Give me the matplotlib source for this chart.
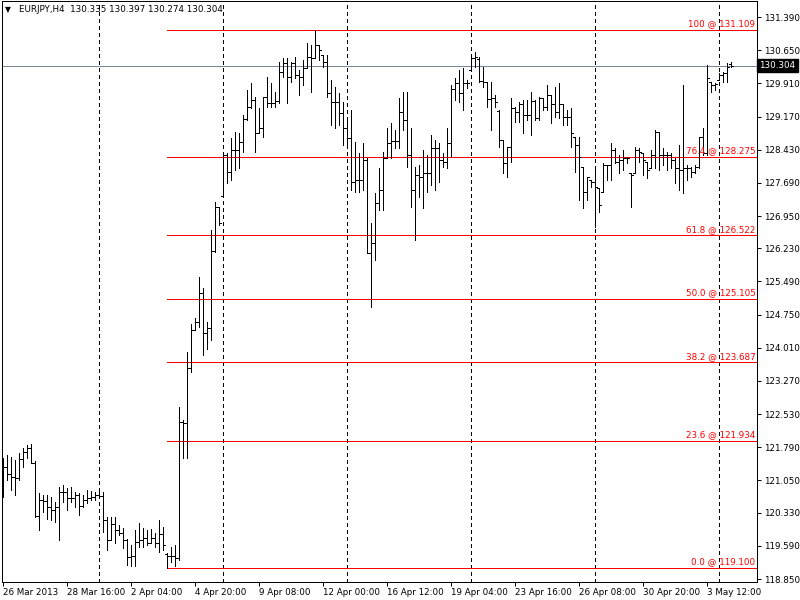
import matplotlib
matplotlib.use("Agg")
import matplotlib.pyplot as plt
from matplotlib.collections import LineCollection
from matplotlib.transforms import blended_transform_factory

# EURJPY H4 bars, 26 Mar 2013 .. 3 May 2013
opens = [121.17, 121.34, 121.19, 121.13, 121.10, 121.52, 121.69, 121.77, 121.45, 120.26,
         120.61, 120.60, 120.46, 120.38, 120.45, 120.80, 120.80, 120.65, 120.65, 120.73,
         120.48, 120.61, 120.65, 120.67, 120.73, 120.70, 120.17, 119.72, 120.08, 119.94,
         119.87, 119.72, 119.35, 119.36, 119.68, 119.72, 119.76, 119.65, 119.76, 119.65,
         119.85, 119.40, 119.36, 119.36, 119.32, 122.35, 122.33, 123.55, 124.41, 124.59,
         125.24, 124.33, 124.44, 126.18, 127.16, 127.40, 128.31, 127.94, 128.42, 128.42,
         128.61, 129.11, 129.39, 129.54, 128.80, 128.91, 129.61, 129.48, 129.47, 129.52,
         130.17, 130.36, 130.06, 130.36, 130.10, 130.06, 130.25, 130.50, 130.47, 130.77,
         130.54, 130.39, 129.69, 129.50, 129.50, 129.24, 128.91, 128.70, 127.71, 127.75,
         127.75, 128.20, 126.12, 126.34, 127.23, 127.53, 128.24, 128.57, 128.62, 128.62,
         129.28, 129.09, 128.31, 127.53, 127.86, 127.83, 127.90, 127.90, 128.46, 128.46,
         128.20, 128.16, 128.57, 129.78, 129.91, 129.70, 129.91, 130.21, 130.47, 130.45,
         129.97, 129.95, 129.55, 129.58, 129.30, 128.65, 128.13, 128.48, 129.35, 129.28,
         129.46, 129.20, 129.20, 129.52, 129.13, 129.58, 129.39, 129.65, 129.46, 129.28,
         129.46, 129.17, 129.17, 128.72, 128.53, 128.05, 127.49, 127.75, 127.71, 127.57,
         127.49, 128.09, 128.09, 128.42, 128.16, 128.20, 128.24, 127.90, 127.90, 128.42,
         128.35, 128.16, 128.01, 128.31, 128.83, 128.31, 128.31, 128.31, 128.20, 128.01,
         127.98, 128.01, 128.01, 127.94, 128.05, 128.71, 128.35, 129.95, 129.87, 129.98,
         130.10, 130.13, 130.335]
highs = [121.54, 121.62, 121.58, 121.51, 121.66, 121.77, 121.84, 121.86, 121.49, 120.76,
         120.73, 120.73, 120.69, 120.58, 120.91, 120.95, 120.88, 120.91, 120.80, 120.76,
         120.73, 120.84, 120.82, 120.80, 120.84, 120.80, 120.24, 120.24, 120.24, 120.06,
         119.98, 119.74, 119.61, 119.94, 120.09, 119.98, 119.94, 119.96, 119.87, 120.17,
         120.01, 119.43, 119.57, 119.61, 122.69, 122.40, 123.92, 124.55, 124.67, 125.60,
         125.34, 124.59, 126.64, 127.27, 127.16, 128.35, 128.35, 128.68, 128.83, 128.80,
         129.20, 129.76, 129.91, 129.61, 129.35, 129.61, 130.06, 129.91, 129.72, 130.39,
         130.47, 130.47, 130.39, 130.50, 130.21, 130.43, 130.80, 130.77, 131.109, 130.77,
         130.54, 130.54, 129.98, 129.83, 129.69, 129.50, 129.09, 129.32, 128.61, 128.35,
         128.57, 128.24, 126.79, 127.46, 128.01, 128.38, 128.91, 129.02, 128.87, 129.58,
         129.72, 129.72, 128.91, 128.05, 128.09, 128.42, 128.31, 128.76, 128.65, 128.57,
         128.35, 128.91, 129.87, 130.02, 130.21, 130.25, 129.98, 130.50, 130.62, 130.50,
         130.28, 129.95, 129.95, 129.65, 129.32, 128.65, 128.50, 129.58, 129.39, 129.50,
         129.54, 129.54, 129.72, 129.54, 129.61, 129.58, 129.87, 129.65, 129.83, 129.91,
         129.46, 129.32, 129.35, 128.72, 128.72, 128.05, 127.83, 127.75, 127.98, 127.57,
         128.13, 128.09, 128.57, 128.46, 128.31, 128.42, 128.27, 127.90, 128.50, 128.46,
         128.35, 128.16, 128.42, 128.87, 128.83, 128.46, 128.38, 128.35, 128.24, 128.53,
         129.87, 128.09, 128.05, 128.09, 128.72, 128.91, 130.32, 129.95, 129.91, 130.13,
         130.17, 130.36, 130.397]
lows = [120.69, 121.06, 120.84, 120.73, 121.06, 121.36, 121.54, 121.43, 120.23, 119.94,
        120.35, 120.20, 120.17, 120.13, 119.72, 120.58, 120.39, 120.58, 120.46, 120.28,
        120.46, 120.54, 120.61, 120.61, 120.65, 119.91, 119.50, 119.72, 119.65, 119.83,
        119.54, 119.16, 119.14, 119.13, 119.57, 119.57, 119.61, 119.65, 119.57, 119.46,
        119.50, 119.10, 119.23, 119.14, 119.28, 121.55, 121.55, 123.48, 124.41, 124.48,
        123.85, 123.99, 124.18, 126.15, 126.75, 127.38, 127.68, 127.75, 127.98, 128.01,
        128.38, 129.09, 129.35, 128.38, 128.80, 128.72, 129.39, 129.39, 129.39, 129.47,
        130.06, 129.47, 129.95, 130.02, 129.66, 129.87, 130.25, 129.72, 130.47, 130.43,
        130.28, 129.61, 128.98, 128.91, 128.98, 128.53, 128.47, 127.53, 127.49, 127.49,
        127.53, 126.12, 124.93, 125.97, 127.08, 127.08, 128.24, 128.24, 128.46, 128.46,
        128.87, 128.05, 127.16, 126.41, 127.38, 127.12, 127.49, 127.64, 127.53, 127.71,
        128.05, 128.01, 128.27, 129.54, 129.50, 129.32, 129.80, 130.21, 130.28, 129.95,
        129.83, 129.39, 128.87, 129.39, 128.50, 127.90, 127.83, 128.16, 129.05, 129.05,
        128.80, 129.09, 128.76, 129.09, 129.09, 129.32, 129.32, 129.02, 129.17, 129.13,
        128.98, 128.98, 128.50, 127.94, 127.31, 127.12, 127.31, 127.60, 126.71, 127.05,
        127.49, 127.75, 127.75, 128.13, 127.90, 127.98, 128.13, 127.16, 127.90, 128.16,
        127.86, 127.79, 128.01, 128.01, 127.98, 128.09, 127.98, 128.01, 127.68, 127.53,
        127.46, 127.75, 127.83, 127.90, 128.01, 128.31, 128.31, 129.72, 129.76, 129.98,
        129.95, 129.95, 130.274]
closes = [121.34, 121.19, 121.13, 121.10, 121.52, 121.69, 121.77, 121.45, 120.26, 120.61,
          120.60, 120.46, 120.38, 120.45, 120.80, 120.80, 120.65, 120.65, 120.73, 120.48,
          120.61, 120.65, 120.67, 120.73, 120.70, 120.17, 119.72, 120.08, 119.94, 119.87,
          119.72, 119.35, 119.36, 119.68, 119.72, 119.76, 119.65, 119.76, 119.65, 119.85,
          119.61, 119.36, 119.36, 119.32, 122.35, 122.33, 123.55, 124.41, 124.59, 125.24,
          124.33, 124.44, 126.18, 127.16, 126.79, 128.31, 127.94, 128.42, 128.42, 128.61,
          129.11, 129.39, 129.54, 128.80, 128.91, 129.61, 129.48, 129.47, 129.52, 130.17,
          130.36, 130.06, 130.36, 130.10, 130.06, 130.25, 130.50, 130.47, 130.77, 130.65,
          130.39, 129.69, 129.50, 129.50, 129.24, 128.91, 128.70, 127.71, 127.75, 127.75,
          128.20, 126.12, 126.34, 127.23, 127.53, 128.24, 128.57, 128.62, 128.62, 129.28,
          129.09, 128.31, 127.53, 127.86, 127.83, 127.90, 127.90, 128.46, 128.46, 128.20,
          128.16, 128.57, 129.78, 129.91, 129.70, 129.91, 129.91, 130.47, 130.50, 129.97,
          129.95, 129.55, 129.58, 129.50, 128.65, 128.13, 128.48, 129.35, 129.28, 129.46,
          129.20, 129.20, 129.52, 129.13, 129.58, 129.39, 129.65, 129.46, 129.28, 129.46,
          129.17, 129.17, 128.80, 128.53, 128.27, 127.49, 127.83, 127.71, 127.60, 127.20,
          128.09, 128.09, 128.42, 128.16, 128.20, 128.24, 128.24, 127.86, 128.42, 128.38,
          128.20, 127.98, 128.31, 128.83, 128.31, 128.31, 128.31, 128.20, 128.01, 127.98,
          128.01, 128.01, 127.94, 128.05, 128.71, 128.35, 130.02, 129.87, 129.89, 130.10,
          130.13, 130.28, 130.304]

time_labels = ["26 Mar 2013", "28 Mar 16:00", "2 Apr 04:00", "4 Apr 20:00", "9 Apr 08:00",
               "12 Apr 00:00", "16 Apr 12:00", "19 Apr 04:00", "23 Apr 16:00", "26 Apr 08:00",
               "30 Apr 20:00", "3 May 12:00"]
time_label_bars = [0, 16, 32, 48, 64, 80, 96, 112, 128, 144, 160, 176]
week_separator_bars = [24, 55, 86, 117, 148, 179]

price_ticks = [131.390, 130.650, 129.910, 129.170, 128.430, 127.690, 126.950, 126.230,
               125.490, 124.750, 124.010, 123.270, 122.530, 121.790, 121.050, 120.330,
               119.590, 118.850]

fib_ratios = ["100", "76.4", "61.8", "50.0", "38.2", "23.6", "0.0"]
fib_prices = [131.109, 128.275, 126.522, 125.105, 123.687, 121.934, 119.100]
fib_start_bar = 41

symbol = "EURJPY,H4"
last_price = 130.304

FONT = "DejaVu Sans"
FS = 6.3
LW = 0.72  # one pixel at 100 dpi

fig = plt.figure(figsize=(8, 6), dpi=100)
fig.patch.set_facecolor("white")
ax = fig.add_axes([2 / 800, 18 / 600, 755 / 800, 581 / 600])
ax.set_xlim(-0.25, 188.5)
ax.set_ylim(118.784, 131.747)

# bars: high-low stick, open tick left, close tick right
segs = []
for i in range(len(opens)):
    segs.append([(i, lows[i]), (i, highs[i])])
    segs.append([(i - 0.5, opens[i]), (i, opens[i])])
    segs.append([(i, closes[i]), (i + 0.5, closes[i])])
ax.add_collection(LineCollection(segs, colors="black", linewidths=LW,
                                 antialiaseds=False, zorder=3))

# weekly separators
for b in week_separator_bars:
    ax.axvline(b, color="black", lw=LW, ls=(0, (4, 4)), antialiased=False, zorder=1)

# fibonacci levels
trans = blended_transform_factory(ax.transAxes, ax.transData)
for r, p in zip(fib_ratios, fib_prices):
    ax.plot([fib_start_bar, 188.5], [p, p], color="red", lw=LW,
            antialiased=False, zorder=2)
    ax.text(0.998, p + 0.03, f"{r} @ {p:.3f}", transform=trans, ha="right",
            va="bottom", color="red", fontsize=FS, family=FONT, zorder=4)

# last price line
ax.axhline(last_price, color="#778899", lw=LW, antialiased=False, zorder=2)
ax.text(1.003, last_price, f"{last_price:.3f}", transform=trans, ha="left",
        va="center", color="white", fontsize=FS, family=FONT, zorder=5,
        clip_on=False,
        bbox=dict(boxstyle="square,pad=0.25", facecolor="black", edgecolor="black"))

ax.yaxis.tick_right()
ax.set_yticks(price_ticks)
ax.set_yticklabels([f"{v:.3f}" for v in price_ticks], family=FONT, fontsize=FS)
ax.tick_params(axis="y", direction="out", length=3, width=LW, pad=2)

ax.set_xticks(time_label_bars)
ax.set_xticklabels(time_labels, family=FONT, fontsize=FS, ha="left")
ax.tick_params(axis="x", direction="out", length=3, width=LW, pad=1.5)

for s in ax.spines.values():
    s.set_color("black")
    s.set_linewidth(LW)

fig.text(5 / 800, 1 - 10 / 600, "\u25bc", fontsize=5.5, family=FONT, va="center")
fig.text(19 / 800, 1 - 10 / 600, f"{symbol}  130.335 130.397 130.274 {last_price:.3f}",
         fontsize=FS, family=FONT, va="center")

fig.savefig("out.png", dpi=100)
